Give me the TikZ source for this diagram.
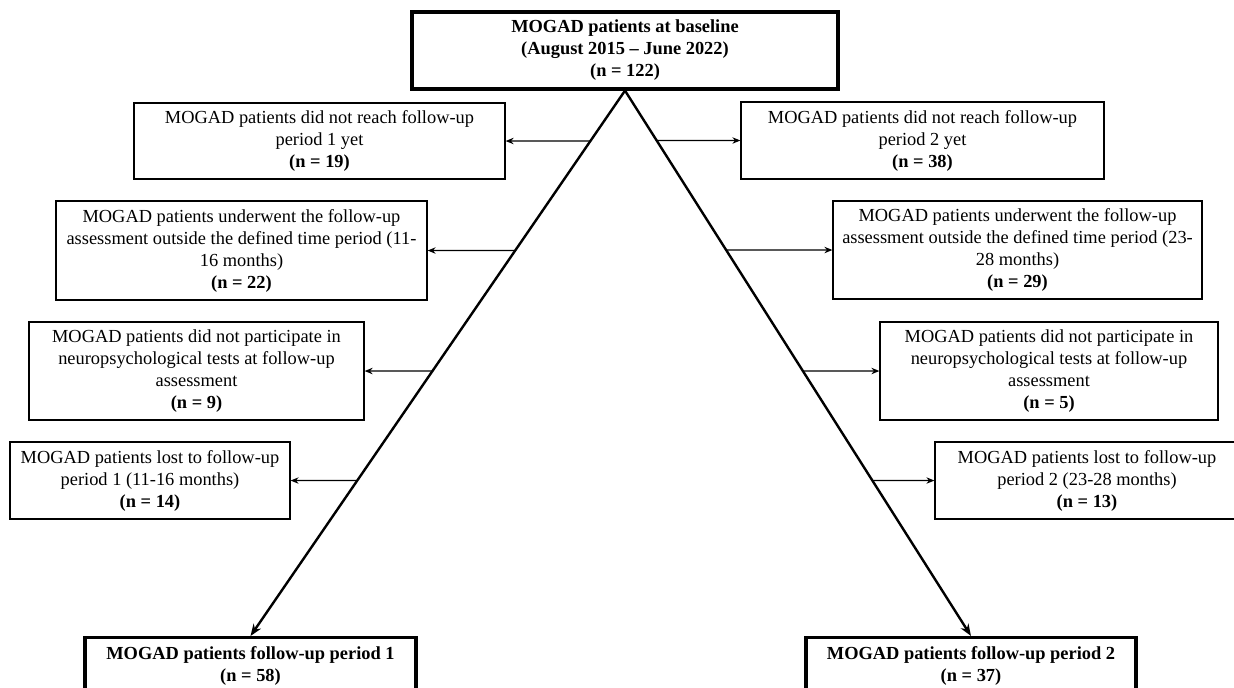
\documentclass[tikz,border=0pt]{standalone}
\usepackage{fontspec}
\setmainfont{Liberation Serif}
\usetikzlibrary{arrows.meta}

\begin{document}
\begin{tikzpicture}[x=0.5pt,y=-0.5pt]
\useasboundingbox (0,0) rectangle (1234,687);

\begin{scope}[every node/.style={draw,line width=1.6pt,align=center,inner sep=0pt,
                                 font=\fontsize{9.2}{11}\selectfont\bfseries}]
  \node[minimum width=213pt,minimum height=38.5pt] (B) at (625,50.5)
    {MOGAD patients at baseline\\(August 2015 -- June 2022)\\(n = 122)};
  \node[minimum width=165.5pt,minimum height=28pt,anchor=north] (F1) at (250.5,636)
    {MOGAD patients follow-up period 1\\(n = 58)};
  \node[minimum width=165pt,minimum height=28pt,anchor=north] (F2) at (971,636)
    {MOGAD patients follow-up period 2\\(n = 37)};
\end{scope}

\begin{scope}[every node/.style={draw,line width=0.6pt,align=center,inner sep=0pt,
                                 font=\fontsize{9.2}{11}\selectfont}]
  \node[minimum width=185.5pt,minimum height=38pt] (L1) at (319.5,141)
    {MOGAD patients did not reach follow-up\\period 1 yet\\\textbf{(n = 19)}};
  \node[minimum width=185.5pt,minimum height=49.5pt] (L2) at (241.5,250.5)
    {MOGAD patients underwent the follow-up\\assessment outside the defined time period (11-\\16 months)\\\textbf{(n = 22)}};
  \node[minimum width=167.5pt,minimum height=49pt] (L3) at (196.5,371)
    {MOGAD patients did not participate in\\neuropsychological tests at follow-up\\assessment\\\textbf{(n = 9)}};
  \node[minimum width=140pt,minimum height=38.5pt] (L4) at (150,480.5)
    {MOGAD patients lost to follow-up\\period 1 (11-16 months)\\\textbf{(n = 14)}};
  \node[minimum width=181.5pt,minimum height=38.5pt] (R1) at (922.5,140.5)
    {MOGAD patients did not reach follow-up\\period 2 yet\\\textbf{(n = 38)}};
  \node[minimum width=184.5pt,minimum height=49pt] (R2) at (1017.5,250)
    {MOGAD patients underwent the follow-up\\assessment outside the defined time period (23-\\28 months)\\\textbf{(n = 29)}};
  \node[minimum width=169pt,minimum height=49pt] (R3) at (1049,371)
    {MOGAD patients did not participate in\\neuropsychological tests at follow-up\\assessment\\\textbf{(n = 5)}};
  \node[minimum width=152pt,minimum height=38.5pt] (R4) at (1087,480.5)
    {MOGAD patients lost to follow-up\\period 2 (23-28 months)\\\textbf{(n = 13)}};
\end{scope}

% points where the side arrows leave the two diagonals
\coordinate (l1) at (intersection of B.south--F1.north and L1.west--L1.east);
\coordinate (l2) at (intersection of B.south--F1.north and L2.west--L2.east);
\coordinate (l3) at (intersection of B.south--F1.north and L3.west--L3.east);
\coordinate (l4) at (intersection of B.south--F1.north and L4.west--L4.east);
\coordinate (r1) at (intersection of B.south--F2.north and R1.west--R1.east);
\coordinate (r2) at (intersection of B.south--F2.north and R2.west--R2.east);
\coordinate (r3) at (intersection of B.south--F2.north and R3.west--R3.east);
\coordinate (r4) at (intersection of B.south--F2.north and R4.west--R4.east);

\begin{scope}[>={Stealth[black,length=4pt,width=3.2pt]},
              every edge/.style={draw=black},
              line width=0.6pt]
  \path [-{Stealth[length=6pt,width=4.5pt]}, line width=1.2pt] (B.south) edge (F1.north);
  \path [-{Stealth[length=6pt,width=4.5pt]}, line width=1.2pt] (B.south) edge (F2.north);
  \path [->] (l1) edge (L1);
  \path [->] (l2) edge (L2);
  \path [->] (l3) edge (L3);
  \path [->] (l4) edge (L4);
  \path [->] (r1) edge (R1);
  \path [->] (r2) edge (R2);
  \path [->] (r3) edge (R3);
  \path [->] (r4) edge (R4);
\end{scope}
\end{tikzpicture}
\end{document}
